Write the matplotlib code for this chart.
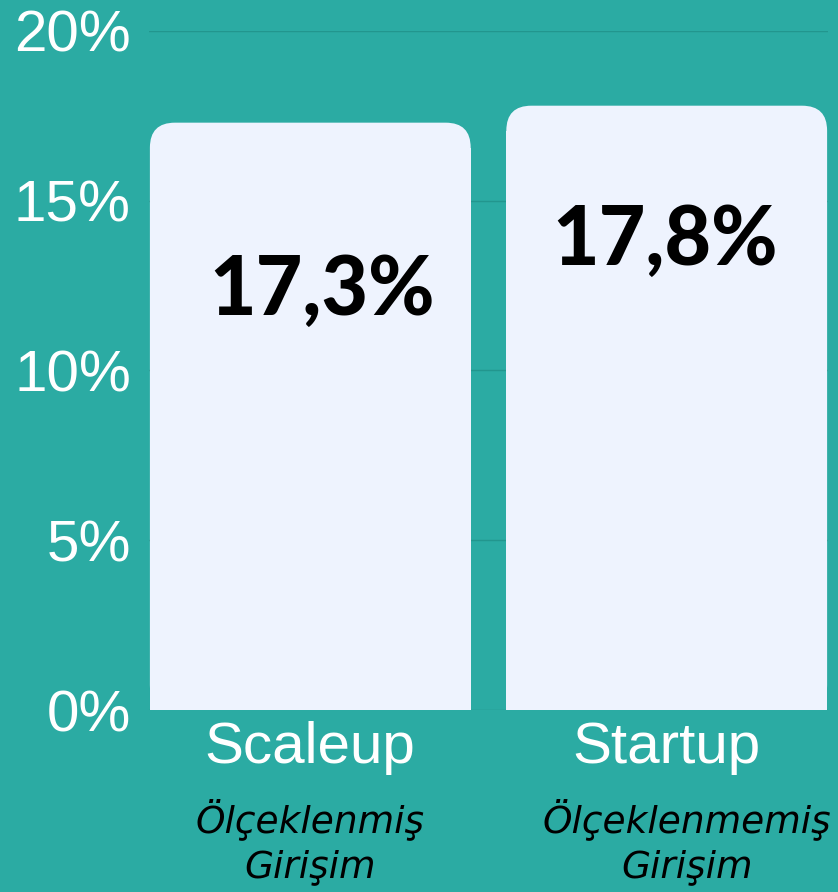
import matplotlib.pyplot as plt
from matplotlib.patches import FancyBboxPatch, Rectangle

categories = ['Scaleup', 'Startup']
subtitles = [['Ölçeklenmiş', 'Girişim'], ['Ölçeklenmemiş', 'Girişim']]
values = [17.3, 17.8]
value_labels = ['17,3%', '17,8%']
yticks = [0, 5, 10, 15, 20]
ytick_labels = ['0%', '5%', '10%', '15%', '20%']

bg = '#2BABA3'
bar_color = '#EEF3FE'
grid_color = '#22968E'

W, H = 838, 892
fig = plt.figure(figsize=(W / 100, H / 100), dpi=100, facecolor=bg)
ax = fig.add_axes([149 / W, 1 - 710 / H, (828 - 149) / W, (710 - 31) / H])
ax.set_facecolor(bg)

x = list(range(len(categories)))
ax.set_xlim(-0.4525, 1.4525)
ax.set_ylim(0, 20)

# invisible bars, only used for geometry of the rounded ones
bars = ax.bar(x, values, width=0.9, color='none', edgecolor='none')

# data units per pixel so the corners come out round
ax_w = (828 - 149)
ax_h = (710 - 31)
x_per_px = 1.905 / ax_w
y_per_px = 20 / ax_h
r_px = 25
rx = r_px * x_per_px
ry = r_px * y_per_px

for b in bars:
    x0, w, h = b.get_x(), b.get_width(), b.get_height()
    ax.add_patch(FancyBboxPatch((x0, 0), w, h,
                                boxstyle=f"round,pad=0,rounding_size={rx}",
                                mutation_aspect=ry / rx,
                                facecolor=bar_color, edgecolor='none', zorder=2))
    ax.add_patch(Rectangle((x0, 0), w, h - ry, facecolor=bar_color,
                           edgecolor='none', zorder=2))

# value labels inside the bars
label_pos = [(0.033, 11.63), (0.995, 13.11)]
for (lx, ly), txt in zip(label_pos, value_labels):
    ax.text(lx, ly, txt, ha='center', va='baseline', fontsize=58,
            fontweight='black', family='Lato', color='black', zorder=3)

ax.set_yticks(yticks, ytick_labels)
ax.set_xticks(x, categories)
for t in ax.get_yticklabels():
    t.set_fontsize(42)
    t.set_color('white')
    t.set_family('Liberation Sans')
for t in ax.get_xticklabels():
    t.set_fontsize(42)
    t.set_color('white')
    t.set_family('Liberation Sans')
ax.tick_params(axis='y', length=0, pad=13)
ax.tick_params(axis='x', length=0, pad=8)

ax.yaxis.grid(True, color=grid_color, lw=1)
ax.set_axisbelow(True)
for s in ax.spines.values():
    s.set_visible(False)

# italic turkish subtitles under the tick labels
sub_x = [0.0, 1.057]
for sx, lines in zip(sub_x, subtitles):
    ax.text(sx, -3.59, lines[0], ha='center', va='baseline', fontsize=27,
            style='oblique', family='DejaVu Sans', color='black', clip_on=False)
    ax.text(sx, -4.92, lines[1], ha='center', va='baseline', fontsize=27,
            style='oblique', family='DejaVu Sans', color='black', clip_on=False)

fig.savefig('out.png', dpi=100, facecolor=bg)
